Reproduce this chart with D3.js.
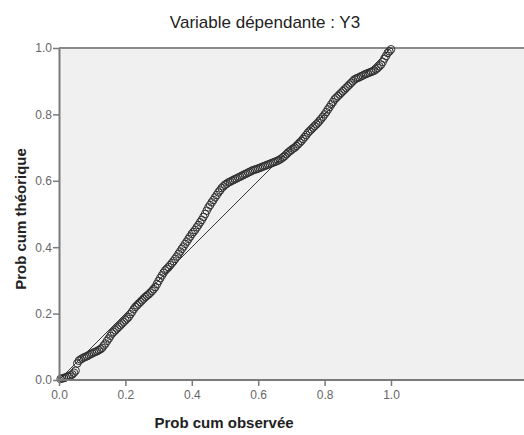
<!DOCTYPE html>
<html><head><meta charset="utf-8">
<script src="https://cdn.jsdelivr.net/npm/d3@7"></script>
<style>body{margin:0;background:#fff;}svg{display:block;}</style>
</head><body>
<svg id="c" width="524" height="435"></svg>
<script>
const title = "Variable dépendante : Y3";
const xLabel = "Prob cum observée";
const yLabel = "Prob cum théorique";
const tickValues = [0.0, 0.2, 0.4, 0.6, 0.8, 1.0];
const observed = [
0.005,0.010,0.015,0.020,0.025,0.030,0.035,0.040,0.045,0.050,
0.055,0.060,0.065,0.070,0.075,0.080,0.085,0.090,0.095,0.100,
0.105,0.110,0.115,0.120,0.125,0.130,0.135,0.140,0.145,0.150,
0.155,0.160,0.165,0.170,0.175,0.180,0.185,0.190,0.195,0.200,
0.205,0.210,0.215,0.220,0.225,0.230,0.235,0.240,0.245,0.250,
0.255,0.260,0.265,0.270,0.275,0.280,0.285,0.290,0.295,0.300,
0.305,0.310,0.315,0.320,0.325,0.330,0.335,0.340,0.345,0.350,
0.355,0.360,0.365,0.370,0.375,0.380,0.385,0.390,0.395,0.400,
0.405,0.410,0.415,0.420,0.425,0.430,0.435,0.440,0.445,0.450,
0.455,0.460,0.465,0.470,0.475,0.480,0.485,0.490,0.495,0.500,
0.505,0.510,0.515,0.520,0.525,0.530,0.535,0.540,0.545,0.550,
0.555,0.560,0.565,0.570,0.575,0.580,0.585,0.590,0.595,0.600,
0.605,0.610,0.615,0.620,0.625,0.630,0.635,0.640,0.645,0.650,
0.655,0.660,0.665,0.670,0.675,0.680,0.685,0.690,0.695,0.700,
0.705,0.710,0.715,0.720,0.725,0.730,0.735,0.740,0.745,0.750,
0.755,0.760,0.765,0.770,0.775,0.780,0.785,0.790,0.795,0.800,
0.805,0.810,0.815,0.820,0.825,0.830,0.835,0.840,0.845,0.850,
0.855,0.860,0.865,0.870,0.875,0.880,0.885,0.890,0.895,0.900,
0.905,0.910,0.915,0.920,0.925,0.930,0.935,0.940,0.945,0.950,
0.955,0.960,0.965,0.970,0.975,0.980,0.985,0.990,0.995,1.000];
const expected = [
0.003,0.005,0.006,0.008,0.010,0.011,0.014,0.017,0.022,0.028,
0.050,0.058,0.062,0.065,0.068,0.070,0.072,0.075,0.078,0.080,
0.083,0.085,0.087,0.090,0.093,0.097,0.104,0.110,0.118,0.125,
0.133,0.140,0.145,0.150,0.155,0.160,0.165,0.170,0.175,0.180,
0.185,0.190,0.198,0.205,0.213,0.220,0.225,0.230,0.235,0.240,
0.245,0.250,0.254,0.258,0.263,0.268,0.274,0.280,0.289,0.298,
0.307,0.315,0.323,0.330,0.335,0.340,0.346,0.352,0.358,0.365,
0.372,0.380,0.387,0.395,0.402,0.410,0.417,0.425,0.432,0.440,
0.446,0.452,0.460,0.467,0.475,0.482,0.491,0.500,0.510,0.520,
0.527,0.535,0.542,0.550,0.557,0.565,0.571,0.578,0.583,0.588,
0.591,0.595,0.597,0.600,0.602,0.605,0.607,0.610,0.612,0.615,
0.617,0.620,0.622,0.625,0.627,0.630,0.632,0.634,0.635,0.637,
0.639,0.641,0.643,0.645,0.647,0.649,0.651,0.653,0.655,0.657,
0.659,0.661,0.664,0.667,0.671,0.675,0.680,0.685,0.689,0.693,
0.697,0.700,0.705,0.710,0.715,0.720,0.726,0.732,0.738,0.745,
0.750,0.755,0.760,0.765,0.770,0.775,0.781,0.787,0.793,0.800,
0.807,0.815,0.822,0.830,0.837,0.845,0.850,0.855,0.860,0.865,
0.870,0.875,0.880,0.885,0.890,0.895,0.900,0.905,0.908,0.910,
0.912,0.915,0.917,0.920,0.922,0.924,0.926,0.928,0.930,0.932,
0.936,0.940,0.945,0.950,0.958,0.968,0.976,0.985,0.990,0.996];

const svg = d3.select("#c");
const plotL = 59, plotT = 48, plotR = 524, plotB = 380;
const x = d3.scaleLinear().domain([0,1]).range([59, 391]);
const y = d3.scaleLinear().domain([0,1]).range([380, 48]);
const font = "Liberation Sans, Arial, sans-serif";

svg.append("rect").attr("x", plotL).attr("y", plotT)
  .attr("width", plotR - plotL).attr("height", plotB - plotT)
  .attr("fill", "#f0f0f0");
svg.append("line").attr("x1", plotL).attr("x2", plotR).attr("y1", plotT).attr("y2", plotT)
  .attr("stroke", "#8a8a8a").attr("stroke-width", 2);

// diagonal reference line
svg.append("line").attr("x1", x(0)).attr("y1", y(0)).attr("x2", x(1)).attr("y2", y(1))
  .attr("stroke", "#3a3a3a").attr("stroke-width", 1);

// points
const pts = observed.map((v,i)=>[v, expected[i]]);
svg.append("g").selectAll("circle").data(pts).join("circle")
  .attr("cx", d=>x(d[0])).attr("cy", d=>y(d[1])).attr("r", 3.8)
  .attr("fill", "none").attr("stroke", "#2e2e2e").attr("stroke-width", 1);

// axes
const xAxis = d3.axisBottom(x).tickValues(tickValues).tickFormat(d3.format(".1f")).tickSize(6).tickSizeOuter(0);
const gx = svg.append("g").attr("transform", `translate(0,${plotB})`).call(xAxis);
gx.select(".domain").attr("d", `M${plotL},0H${plotR}`).attr("stroke", "#7a7a7a").attr("stroke-width", 2);
gx.selectAll(".tick line").attr("stroke", "#7a7a7a").attr("stroke-width", 1.5);
gx.selectAll(".tick text").attr("fill", "#666").attr("font-family", font).attr("font-size", 12).attr("dy", "0.95em").attr("y", 8);

const yAxis = d3.axisLeft(y).tickValues(tickValues).tickFormat(d3.format(".1f")).tickSize(6).tickSizeOuter(0);
const gy = svg.append("g").attr("transform", `translate(${plotL},0)`).call(yAxis);
gy.select(".domain").attr("stroke", "#7a7a7a").attr("stroke-width", 2);
gy.selectAll(".tick line").attr("stroke", "#7a7a7a").attr("stroke-width", 1.5);
gy.selectAll(".tick text").attr("fill", "#666").attr("font-family", font).attr("font-size", 12).attr("x", -7);

svg.append("text").attr("x", 265).attr("y", 28).attr("text-anchor", "middle")
  .attr("font-family", font).attr("font-size", 17).attr("fill", "#222")
  .text(title);
svg.append("text").attr("x", 224).attr("y", 428).attr("text-anchor", "middle")
  .attr("font-family", font).attr("font-size", 15).attr("font-weight", "bold").attr("fill", "#222")
  .text(xLabel);
svg.append("text").attr("transform", "translate(26,219) rotate(-90)").attr("text-anchor", "middle")
  .attr("font-family", font).attr("font-size", 15).attr("font-weight", "bold").attr("fill", "#222")
  .text(yLabel);
</script>
</body></html>
